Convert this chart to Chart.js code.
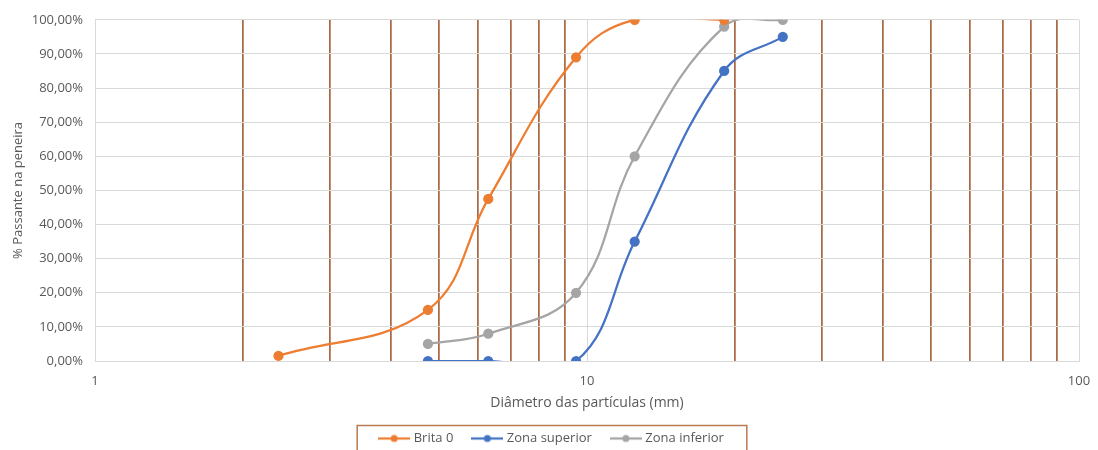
<!DOCTYPE html>
<html>
<head>
<meta charset="utf-8">
<script src="https://cdn.jsdelivr.net/npm/chart.js@4.4.1/dist/chart.umd.min.js"></script>
<style>
  html, body { margin: 0; padding: 0; background: #fff; }
  #wrap { width: 1098px; height: 450px; position: relative; }
</style>
</head>
<body>
<div id="wrap"><canvas id="granChart"></canvas></div>
<script>
// Peneiras (mm) e % passante
const sieveBrita = [2.36, 4.75, 6.3, 9.5, 12.5, 19];
const brita0 = [1.5, 15, 47.5, 89, 100, 100];
const sieveZona = [4.75, 6.3, 9.5, 12.5, 19, 25];
const zonaSuperior = [0, 0, 0, 35, 85, 95];
const zonaInferior = [5, 8, 20, 60, 98, 100];
const seriesNames = ['Brita 0', 'Zona superior', 'Zona inferior'];
const seriesColors = ['#ED7D31', '#4472C4', '#A5A5A5'];
// linhas de grade do eixo log
const xGridValues = [1, 2, 3, 4, 5, 6, 7, 8, 9, 10, 20, 30, 40, 50, 60, 70, 80, 90, 100];

const FONT = '"Open Sans", "Liberation Sans", sans-serif';
const TEXT = '#595959';
const GRID = '#D9D9D9';
const BROWN = '#A86B45';

function toPoints(xs, ys) {
    return xs.map((x, i) => ({ x: x, y: ys[i] }));
}

// icone de legenda estilo Excel (linha + marcador)
function legendIcon(color) {
    const c = document.createElement('canvas');
    c.width = 32; c.height = 10;
    const g = c.getContext('2d');
    g.strokeStyle = color; g.lineWidth = 2.25;
    g.beginPath(); g.moveTo(0, 5); g.lineTo(32, 5); g.stroke();
    g.fillStyle = color;
    g.beginPath(); g.arc(16, 5, 3.5, 0, Math.PI * 2); g.fill();
    return c;
}

function isDecade(v) {
    const l = Math.log10(v);
    return Math.abs(l - Math.round(l)) < 1e-9;
}

const legendBorder = {
    id: 'legendBorder',
    afterLayout(chart) {
        // desloca a legenda um pouco para a direita, como no Excel
        chart.legend.left += 13;
        chart.legend.right += 13;
    },
    afterDraw(chart) {
        const boxes = chart.legend.legendHitBoxes;
        if (!boxes || !boxes.length) return;
        const left = Math.min(...boxes.map(b => b.left)) - 24;
        const right = Math.max(...boxes.map(b => b.left + b.width)) + 23;
        const top = boxes[0].top + boxes[0].height / 2 - 13;
        const ctx = chart.ctx;
        ctx.save();
        ctx.strokeStyle = '#B87A50';
        ctx.lineWidth = 1.5;
        ctx.strokeRect(left, top, right - left, chart.height - top + 2);
        ctx.restore();
    }
};

const makeDataset = (label, xs, ys, color) => ({
    label: label,
    data: toPoints(xs, ys),
    borderColor: color,
    backgroundColor: color,
    borderWidth: 2.25,
    pointRadius: 4,
    pointHoverRadius: 5,
    tension: 0.4,
    capBezierPoints: false
});

const ctx = document.getElementById('granChart').getContext('2d');
const granChart = new Chart(ctx, {
    type: 'line',
    data: {
        datasets: [
            makeDataset(seriesNames[0], sieveBrita, brita0, seriesColors[0]),
            makeDataset(seriesNames[1], sieveZona, zonaSuperior, seriesColors[1]),
            makeDataset(seriesNames[2], sieveZona, zonaInferior, seriesColors[2])
        ]
    },
    options: {
        responsive: true,
        maintainAspectRatio: false,
        animation: false,
        elements: { line: { capBezierPoints: false } },
        layout: { padding: { left: 0, right: 19, top: 18, bottom: -5 } },
        scales: {
            x: {
                type: 'logarithmic',
                min: 1,
                max: 100,
                afterBuildTicks: (scale) => {
                    scale.ticks = xGridValues.map(v => ({ value: v, major: isDecade(v) }));
                },
                afterFit: (scale) => {
                    scale.height = 50;
                    scale.paddingLeft = 0;
                    scale.paddingRight = 0;
                },
                grid: {
                    color: (c) => isDecade(c.tick.value) ? GRID : BROWN,
                    lineWidth: (c) => isDecade(c.tick.value) ? 1 : 1.75,
                    drawTicks: false
                },
                border: { color: GRID },
                ticks: {
                    autoSkip: false,
                    maxRotation: 0,
                    padding: 12,
                    color: TEXT,
                    font: { family: FONT, size: 13 },
                    callback: function(value) {
                        return isDecade(value) ? String(value) : '';
                    }
                },
                title: {
                    display: true,
                    text: 'Diâmetro das partículas (mm)',
                    color: TEXT,
                    font: { family: FONT, size: 14 },
                    padding: { top: 0, bottom: 0 }
                }
            },
            y: {
                min: 0,
                max: 100,
                afterFit: (scale) => { scale.width = 95; },
                grid: { color: GRID, drawTicks: false },
                border: { color: GRID },
                ticks: {
                    stepSize: 10,
                    padding: 12,
                    color: TEXT,
                    font: { family: FONT, size: 13 },
                    callback: function(value) {
                        return value.toFixed(2).replace('.', ',') + '%';
                    }
                },
                title: {
                    display: true,
                    text: '% Passante na peneira',
                    color: TEXT,
                    font: { family: FONT, size: 13 },
                    padding: { top: 10, bottom: 0 }
                }
            }
        },
        plugins: {
            legend: {
                position: 'bottom',
                labels: {
                    usePointStyle: true,
                    pointStyleWidth: 26,
                    color: TEXT,
                    padding: 21,
                    font: { family: FONT, size: 13 },
                    generateLabels: function(chart) {
                        const items = Chart.defaults.plugins.legend.labels.generateLabels(chart);
                        items.forEach((it, i) => { it.pointStyle = legendIcon(seriesColors[i]); });
                        return items;
                    }
                }
            },
            tooltip: { enabled: false }
        }
    },
    plugins: [legendBorder]
});
</script>
</body>
</html>
